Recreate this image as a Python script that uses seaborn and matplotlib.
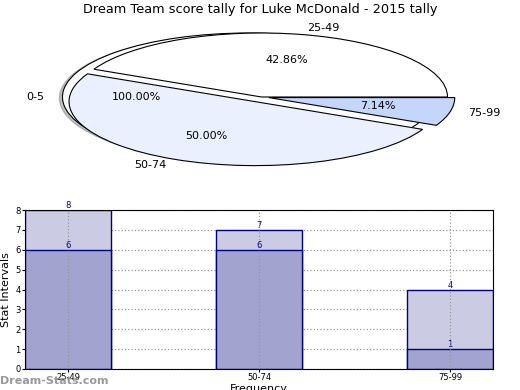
import numpy as np
import pandas as pd
import matplotlib
matplotlib.use("Agg")
import matplotlib.pyplot as plt
import seaborn as sns

# pie data
pie_full_label = ["0-5"]
pie_full_value = [1]
pie_labels = ["25-49", "50-74", "75-99"]
pie_values = [6, 7, 1]

# bar data
intervals = ["25-49", "50-74", "75-99"]
totals = [8, 7, 4]
inner = [6, 6, 1]

fig = plt.figure(figsize=(5.2, 3.9), dpi=100)

# pie on top (squashed, not equal aspect)
ax1 = fig.add_axes([29 / 520, (390 - 177) / 390, 465 / 520, 160 / 390])
ax1.pie(pie_full_value, labels=pie_full_label, autopct="%.2f%%", startangle=0,
        explode=[0.07], colors=["white"],
        shadow=dict(ox=-0.012, oy=-0.012, shade=0.5),
        wedgeprops=dict(edgecolor="black", linewidth=0.8),
        textprops=dict(fontsize=8))
ax1.pie(pie_values, labels=pie_labels, autopct="%.2f%%", startangle=0,
        explode=[0, 0.08, 0.04], colors=["white", "#eaf0fd", "#c4d6fc"],
        wedgeprops=dict(edgecolor="black", linewidth=0.8),
        textprops=dict(fontsize=8))
ax1.set_aspect("auto")
ax1.set_xlim(-1.25, 1.25)
ax1.set_ylim(-1.25, 1.25)
fig.text(0.5, 0.975, "Dream Team score tally for Luke McDonald - 2015 tally",
         ha="center", va="center", fontsize=9.3)

# bar chart
df = pd.DataFrame({"interval": intervals, "total": totals, "inner": inner})
ax2 = fig.add_axes([25 / 520, 21 / 390, 468 / 520, 159 / 390])
sns.barplot(data=df, x="interval", y="total", color="#cbcbe4", saturation=1,
            width=0.45, edgecolor="#000080", linewidth=1, ax=ax2)
sns.barplot(data=df, x="interval", y="inner", color="#a3a3cf", saturation=1,
            width=0.45, edgecolor="#000080", linewidth=1, ax=ax2)
for c in ax2.containers:
    ax2.bar_label(c, fontsize=6, color="#000080", padding=0)
ax2.set_xlim(-0.225, 2.225)
ax2.set_ylim(0, 8)
ax2.set_yticks(range(0, 9))
ax2.grid(True, linestyle=":", color="#999999", linewidth=0.9)
# horizontal grid behind the bars, vertical grid in front
ax2.yaxis.set_zorder(0.5)
ax2.xaxis.set_zorder(3)
ax2.tick_params(labelsize=6, length=2, pad=1)
ax2.set_ylabel("Stat Intervals", fontsize=8, labelpad=3)
ax2.set_xlabel("Frequency", fontsize=8, labelpad=1)

fig.text(0.0, 0.022, "Dream-Stats.com", fontsize=8, color="#999999",
         fontweight="bold", ha="left", va="center")

fig.savefig("out.png", dpi=100)
